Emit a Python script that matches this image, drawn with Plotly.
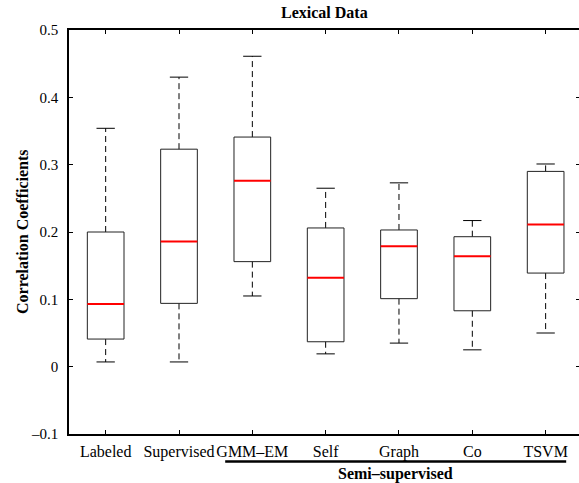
import plotly.graph_objects as go

categories = ["Labeled", "Supervised", "GMM\u2013EM", "Self", "Graph", "Co", "TSVM"]
upper_whisker = [0.354, 0.430, 0.461, 0.265, 0.273, 0.217, 0.301]
q3_values = [0.200, 0.323, 0.341, 0.206, 0.203, 0.193, 0.290]
median_values = [0.093, 0.186, 0.276, 0.132, 0.179, 0.164, 0.211]
q1_values = [0.041, 0.094, 0.156, 0.037, 0.101, 0.083, 0.139]
lower_whisker = [0.007, 0.007, 0.105, 0.019, 0.035, 0.025, 0.050]
ytick_vals = [-0.1, 0, 0.1, 0.2, 0.3, 0.4, 0.5]
ytick_text = ["\u20130.1", "0", "0.1", "0.2", "0.3", "0.4", "0.5"]

FONT = "Liberation Serif, Times New Roman, serif"
BOX_HALF = 0.25
CAP_HALF = 0.125
pos = list(range(1, len(categories) + 1))

wx, wy, cx, cy, bx, by, mx, my = [], [], [], [], [], [], [], []
for p, up, q3, md, q1, lo in zip(pos, upper_whisker, q3_values, median_values, q1_values, lower_whisker):
    wx += [p, p, None, p, p, None]
    wy += [q3, up, None, q1, lo, None]
    cx += [p - CAP_HALF, p + CAP_HALF, None, p - CAP_HALF, p + CAP_HALF, None]
    cy += [up, up, None, lo, lo, None]
    bx += [p - BOX_HALF, p + BOX_HALF, p + BOX_HALF, p - BOX_HALF, p - BOX_HALF, None]
    by += [q1, q1, q3, q3, q1, None]
    mx += [p - BOX_HALF, p + BOX_HALF, None]
    my += [md, md, None]

fig = go.Figure()
fig.add_trace(go.Scatter(x=wx, y=wy, mode="lines", line=dict(color="black", width=1, dash="6px,4px"),
                         hoverinfo="skip", showlegend=False))
fig.add_trace(go.Scatter(x=cx, y=cy, mode="lines", line=dict(color="black", width=1),
                         hoverinfo="skip", showlegend=False))
fig.add_trace(go.Scatter(x=bx, y=by, mode="lines", line=dict(color="#222222", width=1),
                         hoverinfo="skip", showlegend=False))
fig.add_trace(go.Scatter(x=mx, y=my, mode="lines", line=dict(color="red", width=2),
                         hoverinfo="skip", showlegend=False))

W, H = 579, 483
L, R, T, B = 69, 0, 30, 49
plot_w = W - L - R
px_per_unit = 73.33
x_max = 0.5 + plot_w / px_per_unit

fig.update_layout(
    width=W, height=H,
    margin=dict(l=L, r=R, t=T, b=B, autoexpand=False),
    paper_bgcolor="white", plot_bgcolor="white",
    font=dict(family=FONT, size=15, color="black"),
    showlegend=False,
    xaxis=dict(range=[0.5, x_max], tickvals=pos, ticktext=categories, tickangle=0,
               showline=True, linecolor="black", linewidth=1.5, mirror="ticks",
               ticks="inside", ticklen=4, tickcolor="black", tickwidth=1,
               showgrid=False, zeroline=False, tickfont=dict(size=16, family=FONT),
               ticklabelstandoff=2, automargin=False),
    yaxis=dict(range=[-0.1, 0.5], tickvals=ytick_vals, ticktext=ytick_text,
               showline=True, linecolor="black", linewidth=1.5,
               ticks="inside", ticklen=4, tickcolor="black", tickwidth=1,
               showgrid=False, zeroline=False, tickfont=dict(size=15, family=FONT),
               ticklabelstandoff=6, automargin=False),
    yaxis2=dict(overlaying="y", side="right", matches="y", anchor="x",
                tickvals=ytick_vals, showticklabels=False, showline=False,
                ticks="inside", ticklen=3, tickcolor="black", tickwidth=1,
                showgrid=False, zeroline=False, automargin=False),
)
fig.add_trace(go.Scatter(x=[None], y=[None], yaxis="y2", showlegend=False, hoverinfo="skip"))

ph = H - T - B
# Title
fig.add_annotation(text="<b>Lexical Data</b>", xref="paper", yref="paper",
                   x=0.5, y=1 + 17 / ph, xanchor="center", yanchor="middle",
                   showarrow=False, font=dict(size=16, family=FONT))
# Y label
fig.add_annotation(text="<b>Correlation Coefficients</b>", xref="paper", yref="paper",
                   x=(22 - L) / plot_w, y=0.5, xanchor="center", yanchor="middle",
                   textangle=-90, showarrow=False, font=dict(size=16, family=FONT))
# Semi-supervised group
line_y = -(461.5 - (H - B)) / ph
fig.add_shape(type="line", xref="x", yref="paper", x0=2.63, x1=7.28,
              y0=line_y, y1=line_y, line=dict(color="black", width=2.5))
fig.add_annotation(text="<b>Semi\u2013supervised</b>", xref="x", yref="paper",
                   x=(2.63 + 7.28) / 2, y=-(474 - (H - B)) / ph, xanchor="center", yanchor="middle",
                   showarrow=False, font=dict(size=16, family=FONT))

fig.write_html("out.html", config={"displayModeBar": False},
               post_script="document.body.style.margin='0';document.body.style.overflow='hidden';")
